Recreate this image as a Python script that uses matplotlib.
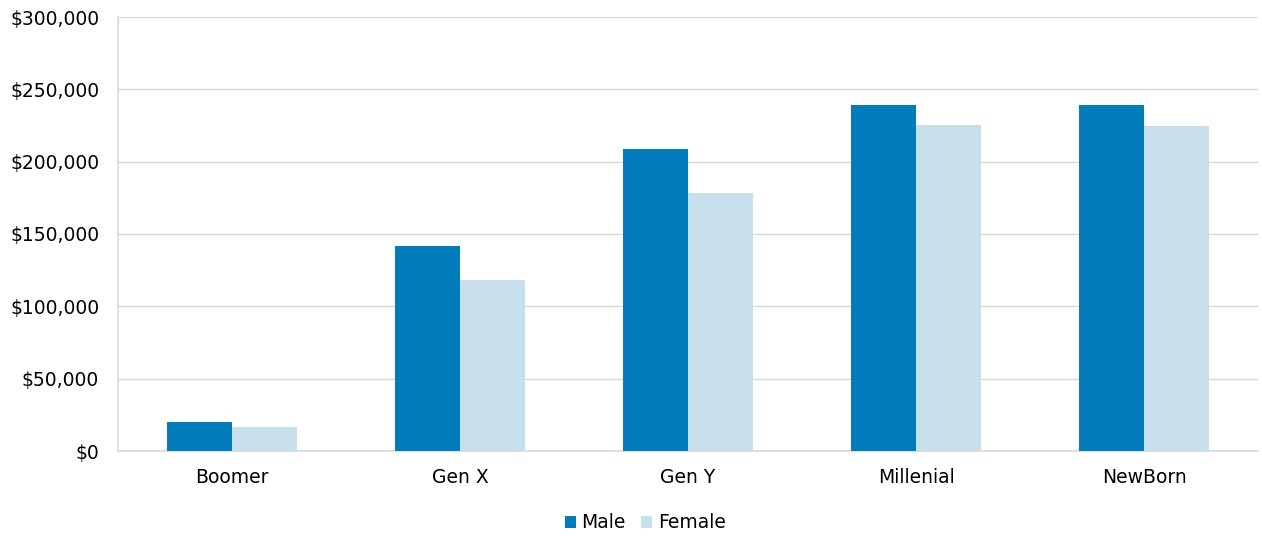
import matplotlib
matplotlib.use("Agg")
import matplotlib.pyplot as plt
import numpy as np
from matplotlib.ticker import FuncFormatter, MultipleLocator

categories = ["Boomer", "Gen X", "Gen Y", "Millenial", "NewBorn"]
male = [20000, 142000, 209000, 239000, 239000]
female = [16500, 118000, 178000, 225500, 225000]

male_color = "#027cba"
female_color = "#c6dfea"
grid_color = "#d9d9d9"

plt.rcParams["font.family"] = ["DejaVu Sans"]

fig = plt.figure(figsize=(12.62, 5.36), dpi=100)
ax = fig.add_axes([118 / 1262, (536 - 451) / 536, (1258 - 118) / 1262, (451 - 17) / 536])

x = np.arange(len(categories))
w = 0.285
ax.bar(x - w / 2, male, width=w, color=male_color, label="Male", zorder=3)
ax.bar(x + w / 2, female, width=w, color=female_color, label="Female", zorder=3)

ax.set_xlim(-0.5, len(categories) - 0.5)
ax.set_ylim(0, 300000)
ax.yaxis.set_major_locator(MultipleLocator(50000))
ax.yaxis.set_major_formatter(FuncFormatter(lambda v, p: f"${v:,.0f}"))
ax.grid(axis="y", color=grid_color, linewidth=1, zorder=0)
ax.set_xticks(x)
ax.set_xticklabels(categories)
ax.tick_params(axis="both", length=0, labelsize=13.5, colors="#000000")
ax.tick_params(axis="x", pad=12.5)
ax.tick_params(axis="y", pad=13.5)

for s in ["top", "right"]:
    ax.spines[s].set_visible(False)
for s in ["left", "bottom"]:
    ax.spines[s].set_color(grid_color)
    ax.spines[s].set_linewidth(1.2)

leg = fig.legend(loc="center", bbox_to_anchor=(645 / 1262, 1 - 523 / 536), ncol=2,
                 frameon=False, fontsize=13.5, handlelength=0.6, handleheight=0.6,
                 handletextpad=0.3, columnspacing=0.8)

fig.savefig("out.png", dpi=100)
